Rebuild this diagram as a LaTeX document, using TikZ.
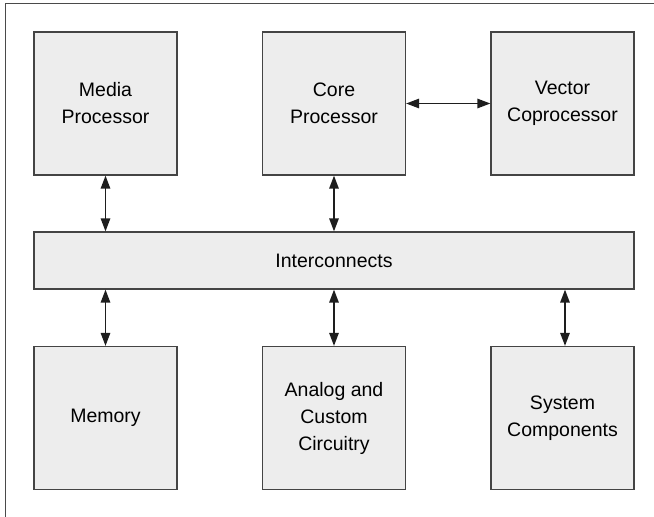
\documentclass[tikz,border=0pt]{standalone}
\usepackage{fontspec}
\setmainfont{Liberation Sans}
\usetikzlibrary{arrows.meta}
\definecolor{boxfill}{HTML}{EDEDED}
\definecolor{boxline}{HTML}{444444}
\definecolor{arrowcol}{HTML}{1E1E1E}
\definecolor{framecol}{HTML}{4A4A4A}
\begin{document}
\begin{tikzpicture}[x=1pt,y=-1pt,
  blk/.style={draw=boxline, fill=boxfill, line width=1.3pt, align=center,
    minimum width=143pt, minimum height=143pt, inner sep=0pt,
    font=\fontsize{19.5}{27}\selectfont},
  bus/.style={blk, minimum width=600pt, minimum height=57pt},
  link/.style={draw=arrowcol, line width=1.4pt,
    {Triangle[length=13pt,width=9.5pt]}-{Triangle[length=13pt,width=9.5pt]}},
  frame/.style={draw=framecol, line width=1.3pt}]
\useasboundingbox (0,0) rectangle (654,517);
% outer frame (top and left only)
\coordinate (fbl) at (5.5,517);
\coordinate (ftl) at (5.5,3.5);
\coordinate (ftr) at (654,3.5);
\draw[frame] (fbl) -- (ftl) -- (ftr);
% top row
\node[blk] (media) at (105.5,103.5) {Media\\Processor};
\node[blk] (core)  at (334,103.5) {Core\\Processor};
\node[blk] (vec)   at (562.5,103.5) {Vector\\Coprocessor};
% bus
\node[bus] (inter) at (334,260.5) {Interconnects};
% bottom row
\node[blk] (mem)   at (105.5,418) {Memory};
\node[blk] (ana)   at (334,418) {Analog and\\Custom\\Circuitry};
\node[blk] (sys)   at (562.5,418) {System\\Components};
% connectors
\draw[link] (core.east) -- (vec.west);
\draw[link] (media.south) -- (media.south |- inter.north);
\draw[link] (core.south) -- (core.south |- inter.north);
\draw[link] (mem.north |- inter.south) -- (mem.north);
\draw[link] (ana.north |- inter.south) -- (ana.north);
\draw[link] ([xshift=2.5pt]sys.north |- inter.south) -- ([xshift=2.5pt]sys.north);
\end{tikzpicture}
\end{document}
